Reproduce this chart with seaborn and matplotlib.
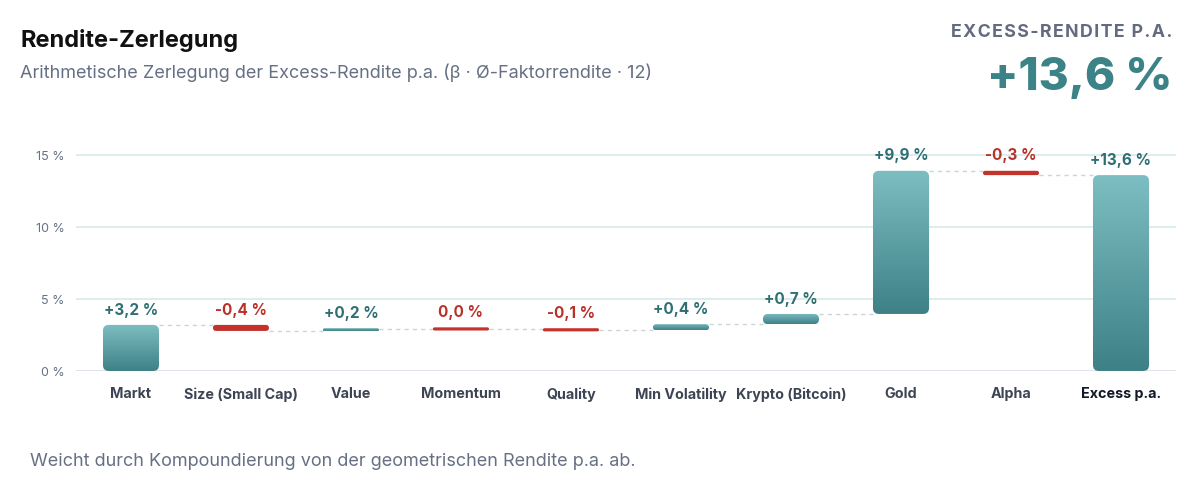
import numpy as np
import pandas as pd
import matplotlib
matplotlib.use("Agg")
import matplotlib.pyplot as plt
from matplotlib.patches import FancyBboxPatch
from matplotlib.colors import LinearSegmentedColormap
import seaborn as sns

# ── data ─────────────────────────────────────────────
categories = ["Markt", "Size (Small Cap)", "Value", "Momentum", "Quality",
              "Min Volatility", "Krypto (Bitcoin)", "Gold", "Alpha", "Excess p.a."]
contrib = [3.20, -0.42, 0.16, -0.04, -0.08, 0.43, 0.71, 9.94, -0.30]
total = 13.6
y_ticks = [0, 5, 10, 15]
y_tick_labels = ["0 %", "5 %", "10 %", "15 %"]

TEAL_TOP, TEAL_BOT = "#7dbec2", "#3d8186"
RED = "#c4332b"
TEAL_TXT = "#2e6f72"
RED_TXT = "#b8322a"
GRAY = "#667085"

sns.set_theme(style="white")
plt.rcParams["font.family"] = ["Inter", "DejaVu Sans"]

ends = np.cumsum(contrib)
starts = ends - np.array(contrib)
df = pd.DataFrame({
    "cat": categories,
    "start": list(starts) + [0.0],
    "end": list(ends) + [total],
    "delta": contrib + [total],
})
df["lo"] = df[["start", "end"]].min(axis=1)
df["hi"] = df[["start", "end"]].max(axis=1)
MIN_H = 0.22
df["h"] = (df["hi"] - df["lo"]).clip(lower=MIN_H)
df["lo_draw"] = (df["lo"] + df["hi"]) / 2 - df["h"] / 2
df.loc[df["hi"] - df["lo"] >= MIN_H, "lo_draw"] = df["lo"]
df["hi_draw"] = df["lo_draw"] + df["h"]

fig = plt.figure(figsize=(12, 5.02), dpi=100)
fig.patch.set_facecolor("white")
ax = fig.add_axes([0.0633, 0.259, 0.9167, 0.459])
ax.set_facecolor("white")
ax.set_xlim(-0.5, len(categories) - 0.5)
ax.set_ylim(0, 16)

px_x = 1200 * 0.9167 / len(categories)
px_y = 502 * 0.459 / 16

# gridlines
for t in y_ticks:
    ax.axhline(t, color="#d4dde3" if t == 0 else "#d2e9e7", lw=1.1, zorder=0)

W = 0.51
bars = ax.bar(df["cat"], df["h"], bottom=df["lo_draw"], width=W, alpha=0)
cmap = LinearSegmentedColormap.from_list("teal", [TEAL_BOT, TEAL_TOP])
grad = np.linspace(0, 1, 256).reshape(-1, 1)

for i, (rect, row) in enumerate(zip(bars, df.itertuples())):
    x0, y0 = rect.get_x(), rect.get_y()
    w, h = rect.get_width(), rect.get_height()
    r_px = min(6.0, h * px_y / 2)
    rx = r_px / px_x
    patch = FancyBboxPatch((x0, y0), w, h,
                           boxstyle=f"round,pad=0,rounding_size={rx}",
                           mutation_aspect=px_x / px_y, lw=0, zorder=3)
    positive = row.delta > 0 or i == len(df) - 1
    if positive:
        patch.set_facecolor("none")
        ax.add_patch(patch)
        im = ax.imshow(grad, extent=(x0, x0 + w, y0, y0 + h), origin="lower",
                       cmap=cmap, aspect="auto", zorder=3)
        im.set_clip_path(patch)
    else:
        patch.set_facecolor(RED)
        ax.add_patch(patch)

    v = row.delta
    if round(v, 1) == 0:
        txt = "0,0 %"
    else:
        txt = f"{v:+.1f}".replace(".", ",") + " %"
    ax.annotate(txt, (i, row.hi_draw), xytext=(0, 6), textcoords="offset points",
                ha="center", va="bottom", fontsize=11, fontweight="bold",
                color=TEAL_TXT if positive else RED_TXT, zorder=5)

# connectors
for i in range(len(df) - 1):
    y = df["end"].iloc[i]
    ax.plot([i + W / 2, i + 1 - W / 2], [y, y], color="#cdd3da", lw=1,
            dashes=(3, 3), zorder=2)

ax.set_xlim(-0.5, len(categories) - 0.5)
ax.set_ylim(0, 16)
ax.set_yticks(y_ticks)
ax.set_yticklabels(y_tick_labels, fontsize=9, color=GRAY)
ax.tick_params(axis="y", length=0, pad=8)
ax.tick_params(axis="x", length=0, pad=11)
ax.set_xticks(range(len(categories)))
ax.set_xticklabels(categories, fontsize=10.3, fontweight="bold", color="#3d4454")
ax.get_xticklabels()[-1].set_color("#111827")
for s in ax.spines.values():
    s.set_visible(False)
ax.grid(False)

# header / footer
fig.text(20 / 1200, 1 - 40 / 502, "Rendite-Zerlegung", fontsize=17, fontweight="bold",
         color="#111111", va="center")
fig.text(20 / 1200, 1 - 73 / 502,
         "Arithmetische Zerlegung der Excess-Rendite p.a. (β · Ø-Faktorrendite · 12)",
         fontsize=13, color=GRAY, va="center")
spaced = "\u200a".join("EXCESS-RENDITE P.A.")
fig.text(1172 / 1200, 1 - 33 / 502, spaced, fontsize=12.8, fontweight="bold",
         color="#646b80", ha="right", va="center")
fig.text(1172 / 1200, 1 - 78 / 502, f"{total:+.1f}".replace(".", ",") + " %",
         fontsize=33, fontweight="heavy", color="#3b8387", ha="right", va="center")
fig.text(30 / 1200, 1 - 462 / 502,
         "Weicht durch Kompoundierung von der geometrischen Rendite p.a. ab.",
         fontsize=13, color=GRAY, va="center")

fig.savefig("out.png", dpi=100, facecolor="white")
